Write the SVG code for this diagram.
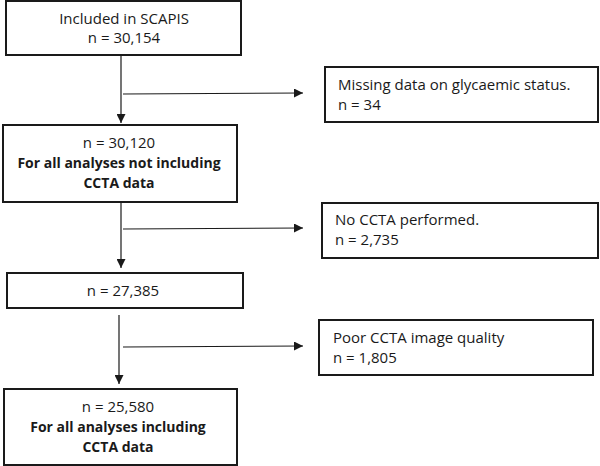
<svg xmlns="http://www.w3.org/2000/svg" width="600" height="466" viewBox="0 0 600 466">
<style>
.box{fill:#fff;stroke:#1a1a1a;stroke-width:2}
.t{font-family:"Open Sans","Liberation Sans",Arial,sans-serif;font-size:15px;fill:#1a1a1a}
.c{text-anchor:middle}
.b{font-weight:bold;font-size:14px}
.ln{stroke:#1a1a1a;stroke-width:1.2;fill:none}
</style>
<defs>
<marker id="ah" viewBox="0 0 10 10" refX="10" refY="5" markerWidth="10" markerHeight="9" markerUnits="userSpaceOnUse" orient="auto">
<path d="M0,0 L10,5 L0,10 z" fill="#1a1a1a"/>
</marker>
</defs>
<g id="connectors">
<line class="ln" x1="121" y1="56" x2="121" y2="123" marker-end="url(#ah)"/>
<line class="ln" x1="123" y1="94" x2="303" y2="93" marker-end="url(#ah)"/>
<line class="ln" x1="121" y1="203" x2="121" y2="268" marker-end="url(#ah)"/>
<line class="ln" x1="123" y1="229" x2="303" y2="228" marker-end="url(#ah)"/>
<line class="ln" x1="119" y1="315" x2="119" y2="384" marker-end="url(#ah)"/>
<line class="ln" x1="123" y1="347" x2="303" y2="346" marker-end="url(#ah)"/>
</g>
<g id="included">
<rect class="box" x="6" y="1" width="235" height="54"/>
<text class="t c" x="124" y="24">Included in SCAPIS</text>
<text class="t c" x="124" y="43">n = 30,154</text>
</g>
<g id="missing">
<rect class="box" x="325" y="67" width="273" height="55"/>
<text class="t" x="338" y="90">Missing data on glycaemic status.</text>
<text class="t" x="338" y="110">n = 34</text>
</g>
<g id="n30120">
<rect class="box" x="3" y="125" width="234" height="77"/>
<text class="t c" x="119" y="148">n = 30,120</text>
<text class="t c b" x="119" y="168">For all analyses not including</text>
<text class="t c b" x="119" y="188">CCTA data</text>
</g>
<g id="noccta">
<rect class="box" x="322" y="203" width="276" height="55"/>
<text class="t" x="335" y="225">No CCTA performed.</text>
<text class="t" x="335" y="245">n = 2,735</text>
</g>
<g id="n27385">
<rect class="box" x="7" y="273" width="236" height="35"/>
<text class="t c" x="123" y="296">n = 27,385</text>
</g>
<g id="poor">
<rect class="box" x="319" y="320" width="274" height="55"/>
<text class="t" x="333" y="343">Poor CCTA image quality</text>
<text class="t" x="333" y="363">n = 1,805</text>
</g>
<g id="n25580">
<rect class="box" x="4" y="389" width="233" height="76"/>
<text class="t c" x="118" y="412">n = 25,580</text>
<text class="t c b" x="118" y="432">For all analyses including</text>
<text class="t c b" x="118" y="452">CCTA data</text>
</g>
</svg>
